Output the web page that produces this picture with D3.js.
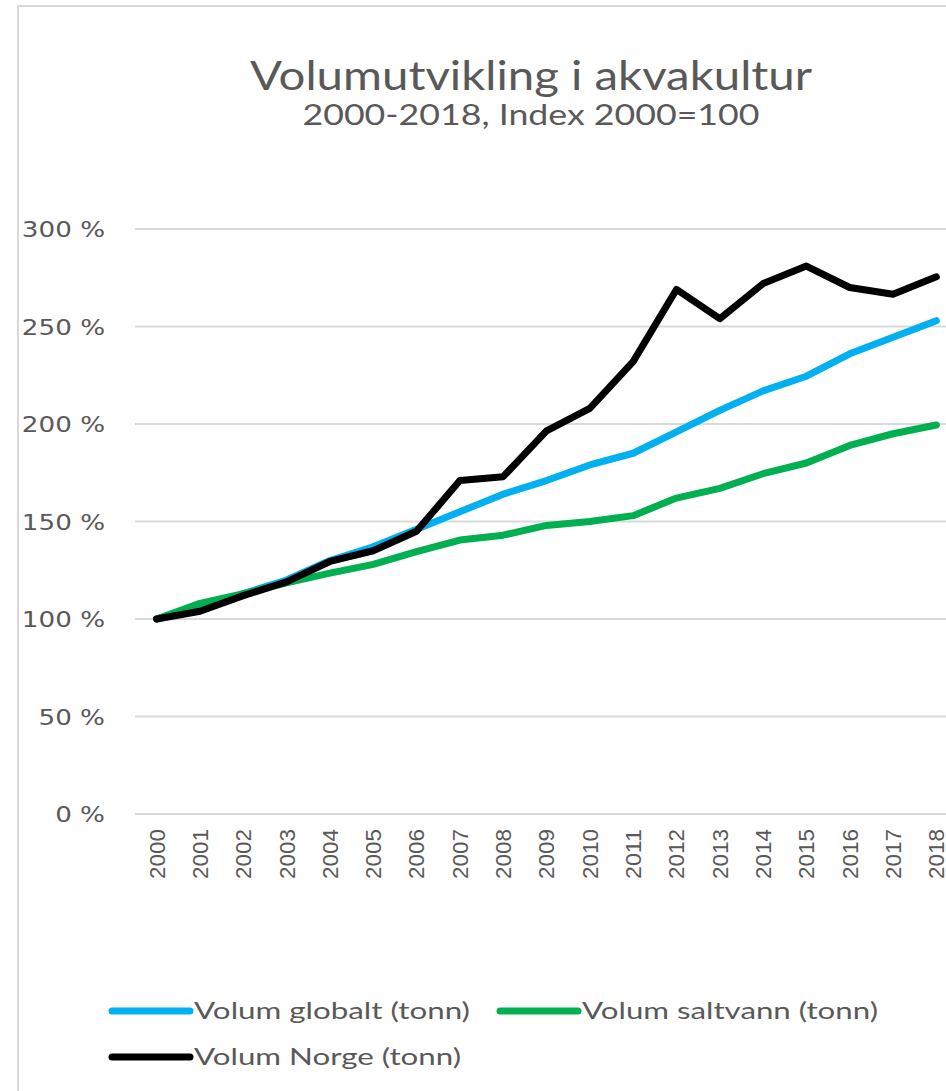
<!DOCTYPE html>
<html><head><meta charset="utf-8">
<script src="https://cdn.jsdelivr.net/npm/d3@7"></script>
<style>body{margin:0;background:#fff;}svg{display:block;}</style>
</head><body>
<svg id="c" width="946" height="1091"></svg>
<script>
const years = ["2000","2001","2002","2003","2004","2005","2006","2007","2008","2009","2010","2011","2012","2013","2014","2015","2016","2017","2018"];
const globalt = [100,106,113,120,130,137,146,155,164,171,179,185,196,207,217,224.5,236,244.5,253];
const saltvann = [100,108,113,118.5,123.5,128,134.5,140.5,143,148,150,153,162,167,174.5,180,189,195,199.5];
const norge = [100,104,112,119,129.5,135,145,171,173,196.5,208,232,269,254,272,281,270,266.5,275.5];
const yTicks = [0,50,100,150,200,250,300];
const seriesNames = ["Volum globalt (tonn)","Volum saltvann (tonn)","Volum Norge (tonn)"];
const seriesColors = ["#00b0f0","#00b050","#000000"];

const svg = d3.select("#c");
const txt = "#595959";

svg.append("rect").attr("x",18).attr("y",6).attr("width",1000).attr("height",1200)
  .attr("fill","none").attr("stroke","#d9d9d9").attr("stroke-width",2);

svg.append("text").attr("x",531).attr("y",90).attr("text-anchor","middle")
  .attr("font-family","Lato").attr("font-size",40).attr("fill",txt)
  .attr("textLength",562).attr("lengthAdjust","spacingAndGlyphs")
  .text("Volumutvikling i akvakultur");
svg.append("text").attr("x",531).attr("y",125).attr("text-anchor","middle")
  .attr("font-family","Lato").attr("font-size",28).attr("fill",txt)
  .attr("textLength",457).attr("lengthAdjust","spacingAndGlyphs")
  .text("2000-2018, Index 2000=100");

const x = d3.scaleBand().domain(years).range([135,958]).padding(0);
const y = d3.scaleLinear().domain([0,300]).range([814,229]);

const grid = svg.append("g");
grid.selectAll("line").data(yTicks).join("line")
  .attr("x1",135).attr("x2",960)
  .attr("y1",d=>y(d)).attr("y2",d=>y(d))
  .attr("stroke","#d9d9d9").attr("stroke-width",2);

const yAxis = svg.append("g").attr("transform","translate(105,0)")
  .call(d3.axisLeft(y).tickValues(yTicks).tickSize(0).tickPadding(0).tickFormat(d=>d+" %"));
yAxis.select(".domain").remove();
yAxis.selectAll("text").attr("font-family","DejaVu Sans").attr("font-size",22)
  .attr("fill",txt).attr("dy","0.35em")
  .each(function(){
    const w = this.getComputedTextLength();
    d3.select(this).attr("textLength", w*1.19).attr("lengthAdjust","spacingAndGlyphs");
  });

const xAxis = svg.append("g").attr("transform","translate(0,814)")
  .call(d3.axisBottom(x).tickSize(0).tickPadding(0));
xAxis.select(".domain").remove();
xAxis.selectAll("text")
  .attr("font-family","Liberation Sans").attr("font-size",22).attr("fill",txt)
  .attr("text-anchor","end").attr("transform","rotate(-90)")
  .attr("x",-15).attr("y",0).attr("dy","0.36em")
  .attr("textLength",50).attr("lengthAdjust","spacingAndGlyphs");

const line = d3.line().x((d,i)=>x(years[i])+x.bandwidth()/2).y(d=>y(d));
const allSeries = [globalt, saltvann, norge];
svg.append("g").selectAll("path").data(allSeries).join("path")
  .attr("d",d=>line(d)).attr("fill","none")
  .attr("stroke",(d,i)=>seriesColors[i]).attr("stroke-width",7)
  .attr("stroke-linejoin","round").attr("stroke-linecap","round");

const legPos = [[112,1011,470],[500,1011,878],[112,1057,461]];
const leg = svg.append("g");
seriesNames.forEach((n,i)=>{
  const [lx,ly,rx] = legPos[i];
  leg.append("line").attr("x1",lx).attr("x2",lx+78).attr("y1",ly).attr("y2",ly)
    .attr("stroke",seriesColors[i]).attr("stroke-width",7).attr("stroke-linecap","round");
  leg.append("text").attr("x",lx+82).attr("y",ly+8)
    .attr("font-family","Lato").attr("font-size",24).attr("fill",txt)
    .attr("textLength",rx-(lx+82)).attr("lengthAdjust","spacingAndGlyphs")
    .text(n);
});
</script>
</body></html>
